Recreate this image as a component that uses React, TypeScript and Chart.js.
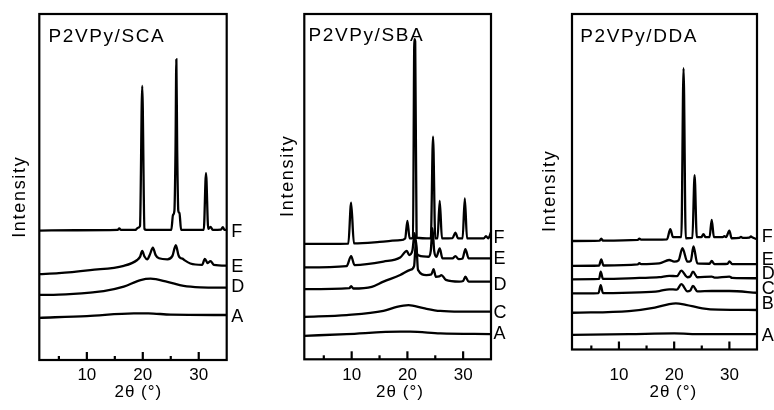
import React, { useEffect, useRef } from "react";
import { Chart, registerables } from "chart.js";

Chart.register(...registerables);

const FONT = "'Liberation Sans', Arial, Helvetica, sans-serif";

// ---- shared axis data ----
const X_MIN = 1.5;
const X_MAX = 35;
const Y_MAX = 100;
const X_TICKS = [10, 20, 30];
const X_MINOR_TICKS = [5, 15, 25];
const X_TITLE = "2θ (°)";
const Y_TITLE = "Intensity";

// ---- panel 1: P2VPy/SCA ----
const SCA_NAME = "P2VPy/SCA";
const SCA_Y_MIN = 0;
const SCA_LABELS = ["F", "E", "D", "A"];
const SCA_LABEL_Y = [37.1, 27.0, 21.0, 12.3];
const SCA_F: [number, number][] = [
  [1.5, 37.4], [8, 37.5], [15.5, 37.6], [15.8, 38.0], [16.1, 37.6], [18.7, 37.6], [19.1, 38.2],
  [19.5, 38.7], [19.9, 79.2], [20.3, 37.9], [20.6, 37.6], [25.1, 37.6], [25.4, 41.9], [25.65, 43.1],
  [25.85, 60.7], [26.0, 86.9], [26.15, 60.7], [26.35, 43.1], [26.55, 42.5], [26.85, 37.6], [30.9, 37.6],
  [31.3, 54.0], [31.7, 37.9], [32.1, 38.5], [32.5, 37.6], [34.0, 37.7], [34.3, 38.4], [34.6, 37.6], [35, 37.6],
];
const SCA_E: [number, number][] = [
  [1.5, 24.8], [5, 25.1], [10.6, 26.0], [16.6, 27.2], [19.0, 28.9], [19.5, 29.8], [19.9, 31.5],
  [20.3, 29.9], [20.8, 29.1], [21.3, 30.6], [21.8, 32.5], [22.3, 30.3], [22.9, 29.4], [24.4, 29.1],
  [25.3, 30.1], [25.9, 33.2], [26.4, 30.2], [26.7, 29.5], [27.1, 29.3], [27.5, 28.8], [28.5, 27.9],
  [30.6, 27.5], [31.1, 29.2], [31.6, 28.0], [32.1, 28.6], [32.7, 27.5], [34.8, 27.3], [35, 27.3],
];
const SCA_D: [number, number][] = [
  [1.5, 18.8], [5, 18.9], [10.6, 19.5], [13, 19.9], [16.6, 21.2], [19.6, 23.1], [21.4, 23.5],
  [24.4, 22.6], [27.3, 21.4], [30.3, 21.0], [35, 20.9],
];
const SCA_A: [number, number][] = [
  [1.5, 12.2], [10, 12.7], [18.4, 13.5], [21, 13.5], [25, 13.1], [35, 13.0],
];

// ---- panel 2: P2VPy/SBA ----
const SBA_NAME = "P2VPy/SBA";
const SBA_Y_MIN = 0;
const SBA_LABELS = ["F", "E", "D", "C", "A"];
const SBA_LABEL_Y = [35.0, 29.0, 21.5, 13.4, 7.3];
const SBA_F: [number, number][] = [
  [1.5, 33.4], [9.4, 33.5], [9.9, 45.4], [10.4, 33.6], [15, 34.0], [18.7, 34.5], [19.6, 35.0],
  [20.0, 40.1], [20.4, 35.0], [21.0, 35.2], [21.25, 92.7], [21.4, 92.0], [21.65, 35.2], [24.2, 35.0],
  [24.6, 64.5], [25.0, 35.0], [25.4, 35.0], [25.8, 45.9], [26.2, 35.0], [28.1, 35.1], [28.6, 36.7],
  [29.1, 35.0], [29.9, 35.0], [30.3, 46.6], [30.7, 35.0], [33.7, 35.0], [34.1, 35.7], [34.5, 35.0], [35, 36.8],
];
const SBA_E: [number, number][] = [
  [1.5, 26.6], [9.1, 27.0], [9.9, 29.9], [10.5, 27.3], [15.7, 28.3], [18.7, 29.5], [19.9, 31.4],
  [20.3, 30.2], [20.9, 31.5], [21.3, 36.5], [21.7, 30.5], [22.4, 29.9], [23.8, 29.7], [24.2, 31.5],
  [24.5, 38.0], [24.8, 31.5], [25.2, 29.7], [25.8, 32.1], [26.3, 29.2], [28.1, 29.2], [28.6, 29.9],
  [29.2, 29.0], [29.9, 29.2], [30.4, 31.9], [31.0, 29.2], [35, 29.2],
];
const SBA_D: [number, number][] = [
  [1.5, 20.3], [9.6, 20.6], [9.9, 21.2], [10.3, 20.5], [13.6, 21.0], [15.7, 22.5], [18.7, 24.4],
  [20.5, 25.9], [21.2, 27.0], [21.55, 34.5], [21.9, 25.9], [23.4, 24.4], [24.3, 24.6], [24.7, 26.1],
  [25.1, 23.9], [25.7, 24.0], [26.1, 24.4], [26.9, 23.0], [29.3, 22.5], [30.0, 22.7], [30.4, 23.9],
  [31.0, 22.5], [35, 22.5],
];
const SBA_C: [number, number][] = [
  [1.5, 12.3], [9.1, 12.8], [15.7, 14.0], [18.1, 15.2], [20.2, 15.7], [22.9, 14.8], [25.9, 14.0],
  [29.5, 13.8], [35, 13.8],
];
const SBA_A: [number, number][] = [
  [1.5, 6.8], [9.1, 7.3], [18.7, 8.0], [20.5, 8.0], [25.9, 7.5], [35, 7.3],
];

// ---- panel 3: P2VPy/DDA ----
const DDA_NAME = "P2VPy/DDA";
const DDA_Y_MIN = 2.75;
const DDA_LABELS = ["F", "E", "D", "C", "B", "A"];
const DDA_LABEL_Y = [35.4, 28.6, 24.5, 20.4, 15.8, 6.6];
const DDA_F: [number, number][] = [
  [1.5, 34.2], [6.5, 34.3], [6.8, 34.9], [7.1, 34.3], [13.4, 34.5], [13.7, 34.9], [14.0, 34.6],
  [18.7, 34.7], [19.3, 37.6], [19.8, 35.3], [21.3, 35.3], [21.7, 84.3], [22.1, 35.0], [23.3, 35.1],
  [23.7, 53.3], [24.1, 35.3], [24.9, 35.3], [25.3, 36.2], [25.7, 35.3], [26.4, 35.3], [26.8, 40.3],
  [27.2, 35.3], [28.8, 35.3], [29.1, 35.6], [29.4, 35.3], [30.0, 37.2], [30.4, 35.0], [31.8, 35.1],
  [32.1, 35.4], [32.4, 35.1], [33.6, 35.2], [33.9, 35.5], [34.2, 35.2], [35, 34.7],
];
const DDA_E: [number, number][] = [
  [1.5, 27.0], [6.4, 27.1], [6.8, 28.9], [7.2, 27.1], [13.4, 27.4], [13.7, 27.8], [14.0, 27.5],
  [17.3, 27.7], [19.1, 28.7], [20.0, 28.2], [20.8, 28.6], [21.5, 32.1], [22.4, 28.2], [23.0, 28.4],
  [23.5, 32.6], [24.2, 27.7], [26.4, 27.6], [26.8, 28.4], [27.3, 27.5], [29.7, 27.6], [30.0, 28.3],
  [30.5, 27.5], [35, 27.5],
];
const DDA_D: [number, number][] = [
  [1.5, 23.1], [6.4, 23.2], [6.7, 25.3], [7.1, 23.2], [13.7, 23.5], [17.3, 23.7], [19.1, 24.1],
  [20.5, 24.0], [21.3, 25.6], [22.4, 23.7], [22.9, 23.9], [23.4, 25.3], [24.2, 23.7], [26.8, 23.9],
  [27.3, 23.6], [30.0, 23.9], [30.5, 23.5], [35, 23.4],
];
const DDA_C: [number, number][] = [
  [1.5, 19.0], [6.3, 19.1], [6.7, 21.4], [7.1, 19.1], [13.7, 19.3], [17.3, 19.7], [19.1, 20.2],
  [20.5, 20.1], [21.3, 21.7], [22.4, 19.6], [22.9, 19.8], [23.4, 21.2], [24.2, 19.6], [26.8, 19.7],
  [30.0, 19.7], [35, 19.2],
];
const DDA_B: [number, number][] = [
  [1.5, 13.4], [11.8, 13.9], [16.5, 14.9], [19.1, 15.9], [20.3, 16.1], [22.1, 15.7], [25.1, 14.7],
  [28, 14.3], [35, 14.2],
];
const DDA_A: [number, number][] = [
  [1.5, 7.0], [11.8, 7.2], [20, 7.4], [25, 7.2], [35, 7.2],
];

// ---- layout (positions/sizes only) ----
const W = 774;
const H = 410;

type PanelDef = {
  name: string;
  yMin: number;
  series: [number, number][][];
  labels: string[];
  labelY: number[];
  left: number; right: number; top: number; bottom: number;
  tickPad: number;
  nameX: number; nameY: number;
  intX: number; intY: number;
  xtX: number; xtY: number;
  lblDx: number;
};

const PANELS: PanelDef[] = [
  {
    name: SCA_NAME, yMin: SCA_Y_MIN, series: [SCA_F, SCA_E, SCA_D, SCA_A], labels: SCA_LABELS, labelY: SCA_LABEL_Y,
    left: 39.3, right: 226.7, top: 14, bottom: 360, tickPad: 5.2,
    nameX: 48.5, nameY: 41.7, intX: 24.5, intY: 196.7, xtX: 138.3, xtY: 397, lblDx: 4.5,
  },
  {
    name: SBA_NAME, yMin: SBA_Y_MIN, series: [SBA_F, SBA_E, SBA_D, SBA_C, SBA_A], labels: SBA_LABELS, labelY: SBA_LABEL_Y,
    left: 304.3, right: 491, top: 14, bottom: 359.3, tickPad: 5.9,
    nameX: 308.5, nameY: 41.2, intX: 293, intY: 175.8, xtX: 400, xtY: 397, lblDx: 2.6,
  },
  {
    name: DDA_NAME, yMin: DDA_Y_MIN, series: [DDA_F, DDA_E, DDA_D, DDA_C, DDA_B, DDA_A], labels: DDA_LABELS, labelY: DDA_LABEL_Y,
    left: 572, right: 757, top: 14, bottom: 349.5, tickPad: 15.7,
    nameX: 580.2, nameY: 41.7, intX: 554.5, intY: 190.8, xtX: 673.3, xtY: 397, lblDx: 4.8,
  },
];

function makeDecor(p: PanelDef) {
  return {
    id: "decor",
    afterDraw(chart: any) {
      const { ctx, chartArea: a, scales } = chart;
      const xs = scales.x;
      const ys = scales.y;
      ctx.save();
      ctx.strokeStyle = "#000";
      ctx.fillStyle = "#000";
      ctx.lineWidth = 2.2;
      ctx.lineCap = "butt";
      const tick = (v: number, len: number) => {
        const px = xs.getPixelForValue(v);
        ctx.beginPath();
        ctx.moveTo(px, a.bottom);
        ctx.lineTo(px, a.bottom - len);
        ctx.stroke();
      };
      X_TICKS.forEach((v) => tick(v, 8));
      X_MINOR_TICKS.forEach((v) => tick(v, 4));
      ctx.strokeRect(a.left, a.top, a.right - a.left, a.bottom - a.top);

      // panel name
      ctx.font = `19px ${FONT}`;
      ctx.letterSpacing = "1.6px";
      ctx.textAlign = "left";
      ctx.textBaseline = "alphabetic";
      ctx.fillText(p.name, p.nameX, p.nameY);

      // y title
      ctx.save();
      ctx.translate(p.intX, p.intY);
      ctx.rotate(-Math.PI / 2);
      ctx.font = `18px ${FONT}`;
      ctx.letterSpacing = "1.7px";
      ctx.textAlign = "center";
      ctx.textBaseline = "alphabetic";
      ctx.fillText(Y_TITLE, 0, 0);
      ctx.restore();

      // x title
      ctx.font = `17px ${FONT}`;
      ctx.letterSpacing = "1px";
      ctx.textAlign = "center";
      ctx.textBaseline = "alphabetic";
      ctx.fillText(X_TITLE, p.xtX, p.xtY);

      // curve labels
      ctx.font = `18px ${FONT}`;
      ctx.letterSpacing = "0px";
      ctx.textAlign = "left";
      ctx.textBaseline = "middle";
      p.labels.forEach((t, i) => {
        ctx.fillText(t, a.right + p.lblDx, ys.getPixelForValue(p.labelY[i]));
      });
      ctx.restore();
    },
  };
}

function Panel({ p }: { p: PanelDef }) {
  const ref = useRef<HTMLCanvasElement>(null);
  useEffect(() => {
    const canvas = ref.current;
    if (!canvas) return;
    const chart = new Chart(canvas, {
      type: "line",
      data: {
        datasets: p.series.map((s, i) => ({
          label: p.labels[i],
          data: s.map(([x, y]) => ({ x, y })),
          borderColor: "#000",
          borderWidth: 2.3,
          pointRadius: 0,
          fill: false,
          cubicInterpolationMode: "monotone" as const,
        })),
      },
      options: {
        animation: false,
        responsive: false,
        maintainAspectRatio: false,
        events: [],
        layout: {
          padding: { left: p.left, right: W - p.right, top: p.top, bottom: 0 },
        },
        plugins: {
          legend: { display: false },
          tooltip: { enabled: false },
          title: { display: false },
        },
        scales: {
          x: {
            type: "linear",
            min: X_MIN,
            max: X_MAX,
            grid: { display: false, drawTicks: false },
            border: { display: false },
            afterBuildTicks: (scale: any) => {
              scale.ticks = X_TICKS.map((v) => ({ value: v }));
            },
            afterFit: (scale: any) => {
              scale.height = H - p.bottom;
            },
            ticks: {
              color: "#000",
              padding: p.tickPad,
              maxRotation: 0,
              autoSkip: false,
              font: { family: FONT, size: 17 },
            },
          },
          y: {
            type: "linear",
            display: false,
            min: p.yMin,
            max: Y_MAX,
          },
        },
      },
      plugins: [makeDecor(p)],
    } as any);
    return () => chart.destroy();
  }, [p]);
  return (
    <canvas
      ref={ref}
      width={W}
      height={H}
      style={{ position: "absolute", left: 0, top: 0, width: W, height: H }}
    />
  );
}

export default function App() {
  return (
    <div
      style={{
        position: "absolute",
        left: 0,
        top: 0,
        width: W,
        height: H,
        background: "#fff",
        overflow: "hidden",
      }}
    >
      {PANELS.map((p) => (
        <Panel key={p.name} p={p} />
      ))}
    </div>
  );
}
